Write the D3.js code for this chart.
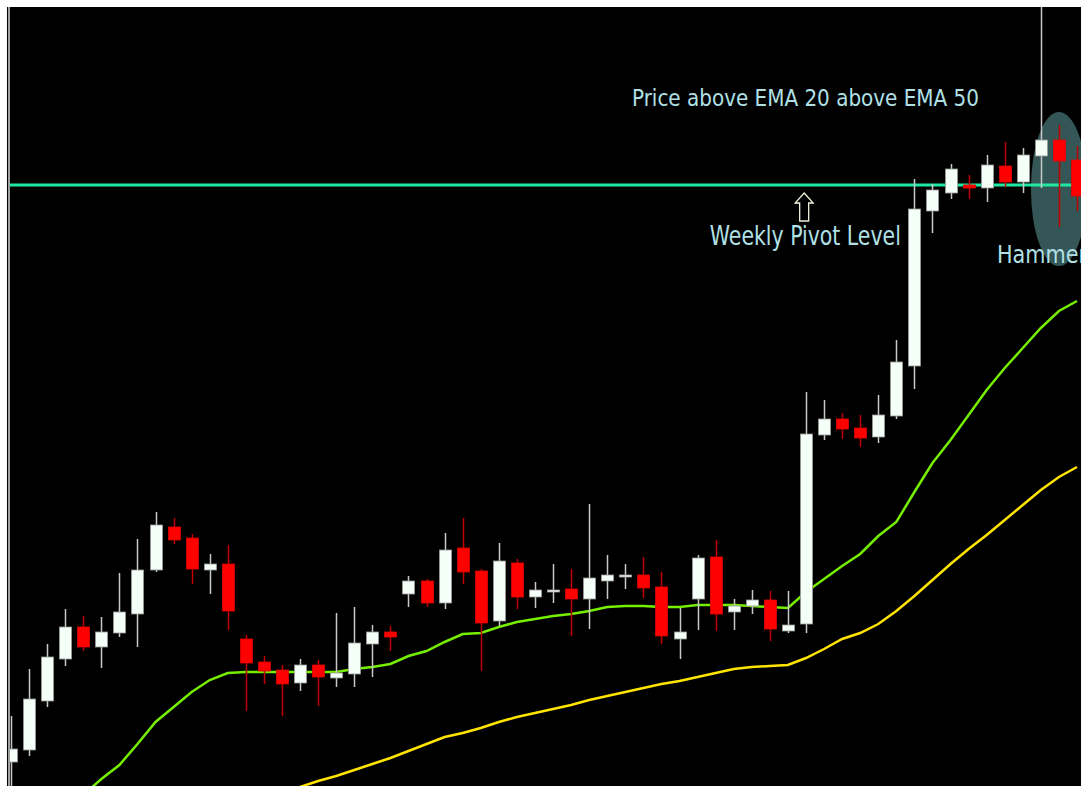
<!DOCTYPE html>
<html lang="en">
    <head>
        <meta charset="utf-8">
        <title>EMA 20 / EMA 50 Candles</title>
        <script src="https://d3js.org/d3.v7.min.js"></script>
        <style type="text/css">
            body{
                margin: 0;
                background: white;
            }
            .note{
                font-family: "DejaVu Sans Condensed", "DejaVu Sans", sans-serif;
                fill: #b0e0e6;
            }
        </style>
    </head>
    <body>
        <svg width="1081" height="786"></svg>
        <script type="text/javascript">

            // candles, oldest first (price in points)
            const opens  = [24,36,85,127,159,139,153,172,216,259, 248,216,222,147,124,116,103,121,108,112,
                            142,154,192,205,183,238,215,165,223,189, 195,197,187,205,209,211,199,147,187,229,
                            174,180,186,155,162,351,367,358,349,370, 420,575,593,601,598,620,604,630,646,626];
            const highs  = [70,117,142,177,170,169,213,247,274,268, 252,232,241,151,130,121,127,126,173,179,
                            161,160,210,207,253,268,217,243,227,204, 222,217,282,231,222,229,214,178,231,246,
                            187,196,195,195,394,386,373,371,391,446, 607,602,622,611,631,644,638,800,661,640];
            const lows   = [-14,30,79,120,135,118,149,139,214,242, 202,192,156,75,102,70,95,80,99,99,
                            109,135,179,179,177,202,115,160,177,178, 183,150,157,187,197,188,142,127,156,155,
                            156,172,145,153,153,346,347,339,343,367, 397,553,587,587,584,599,593,598,559,575];
            const closes = [37,87,129,159,139,154,174,216,261,246, 217,222,175,123,115,102,121,109,113,143,
                            154,149,205,183,236,214,163,225,189,196, 196,187,208,211,211,198,150,154,228,172,
                            180,186,157,161,352,367,357,348,371,424, 577,596,617,598,621,604,631,646,625,590];

            const ema20 = [-74,-59,-44,-26,-9,7,21,42,64,79, 94,106,113,114,114,114,114,114,114,117,
                           119,122,130,135,144,152,153,159,164,167, 170,172,175,179,180,180,179,179,181,181,
                           181,180,179,178,194,207,220,232,250,264, 294,323,346,371,396,418,438,458,475,485];
            const ema50 = [-101,-94,-88,-81,-75,-68,-61,-55,-48,-42, -36,-30,-25,-19,-13,-7,-1,5,10,16,
                           22,28,35,42,49,53,58,64,69,73, 77,81,86,90,94,98,102,105,109,113,
                           117,119,120,121,128,137,147,153,162,175, 190,206,222,237,251,266,281,296,309,319];

            const pivotLevel = 601;
            const labels = ["Price above EMA 20 above EMA 50", "Weekly Pivot Level", "Hammer"];
            const hammerIndex = 58;

            const svg = d3.select("svg");
            const w = 1081;
            const h = 786;

            const candles = opens.map((o, i) => ({i: i, o: o, h: highs[i], l: lows[i], c: closes[i]}));

            const x = d3.scaleLinear().domain([0, candles.length - 1]).range([11, 1077]);
            const y = d3.scaleLinear().domain([0, 779]).range([h, 7]);

            svg.append("rect")
               .attr("x", 7).attr("y", 7)
               .attr("width", w - 7).attr("height", h - 7)
               .style("fill", "black");

            svg.append("clipPath").attr("id", "plot")
               .append("rect")
               .attr("x", 10).attr("y", 7)
               .attr("width", w - 10).attr("height", h - 7);

            const g = svg.append("g").attr("clip-path", "url(#plot)");

            // hammer highlight
            g.append("ellipse")
             .attr("cx", x(hammerIndex))
             .attr("cy", y(pivotLevel) + 4)
             .attr("rx", 28)
             .attr("ry", 77)
             .style("fill", "#345656");

            // weekly pivot
            g.append("line")
             .attr("x1", 0).attr("x2", w)
             .attr("y1", y(pivotLevel)).attr("y2", y(pivotLevel))
             .style("stroke", "#1fe8a2")
             .style("stroke-width", 3);

            const line = d3.line().x((d, i) => x(i)).y(d => y(d));

            g.append("path").datum(ema50)
             .attr("d", line)
             .style("fill", "none")
             .style("stroke", "#ffe400")
             .style("stroke-width", 2.5);

            g.append("path").datum(ema20)
             .attr("d", line)
             .style("fill", "none")
             .style("stroke", "#76ee00")
             .style("stroke-width", 2.5);

            // wicks
            g.selectAll(".wick")
             .data(candles)
             .enter()
             .append("line")
             .attr("class", "wick")
             .attr("x1", d => Math.round(x(d.i)) + 0.5)
             .attr("x2", d => Math.round(x(d.i)) + 0.5)
             .attr("y1", d => y(d.h))
             .attr("y2", d => y(d.l))
             .style("stroke", d => d.c >= d.o ? "#c8c8c8" : "#c00000")
             .style("stroke-width", 1.5);

            // bodies
            g.selectAll(".body")
             .data(candles)
             .enter()
             .append("rect")
             .attr("class", "body")
             .attr("x", d => Math.round(x(d.i)) - 5.5)
             .attr("width", 12)
             .attr("y", d => y(Math.max(d.o, d.c)))
             .attr("height", d => Math.max(2, Math.abs(y(d.o) - y(d.c))))
             .style("fill", d => d.c >= d.o ? "#f4fff8" : "#ff0000")
             .style("stroke", d => d.c >= d.o ? "#9a9a9a" : "#e00000")
             .style("stroke-width", 0.8);

            // arrow under the pivot line
            const ax = x(43.9);
            const ay = y(pivotLevel) + 8;
            g.append("path")
             .attr("d", `M${ax},${ay} l9,10 l-4.5,0 l0,18 l-9,0 l0,-18 l-4.5,0 Z`)
             .style("fill", "black")
             .style("stroke", "#f2f0dc")
             .style("stroke-width", 1.3);

            g.append("text").attr("class", "note")
             .attr("x", x(34.37)).attr("y", y(680))
             .attr("font-size", 23)
             .attr("textLength", 347)
             .attr("lengthAdjust", "spacingAndGlyphs")
             .text(labels[0]);

            g.append("text").attr("class", "note")
             .attr("x", x(38.68)).attr("y", y(541))
             .attr("font-size", 27)
             .attr("textLength", 191)
             .attr("lengthAdjust", "spacingAndGlyphs")
             .text(labels[1]);

            g.append("text").attr("class", "note")
             .attr("x", x(54.57)).attr("y", y(523))
             .attr("font-size", 25)
             .attr("textLength", 90)
             .attr("lengthAdjust", "spacingAndGlyphs")
             .text(labels[2]);

            // left edge of the chart window
            svg.append("line")
               .attr("x1", 9).attr("x2", 9)
               .attr("y1", 7).attr("y2", h)
               .style("stroke", "#a0a0a0")
               .style("stroke-width", 2);

        </script>
    </body>
</html>
